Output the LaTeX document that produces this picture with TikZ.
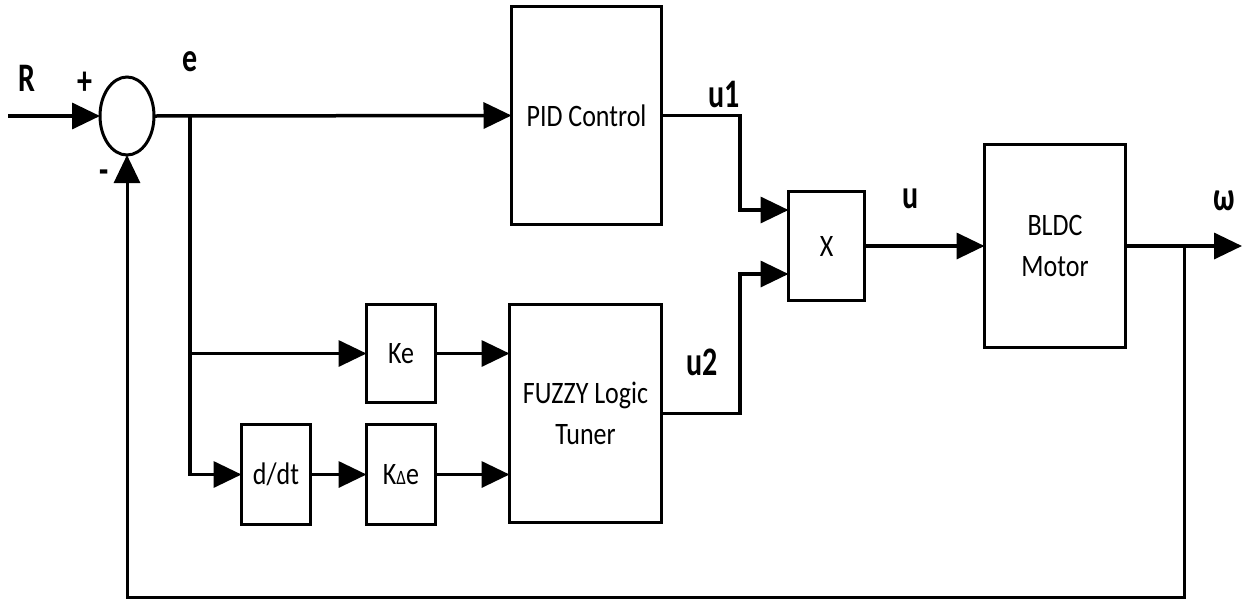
\documentclass[tikz,border=0pt]{standalone}
\usepackage{fontspec}
\usepackage{graphicx}
\setmainfont{Carlito}
\usetikzlibrary{arrows.meta,shapes.geometric}
\newcommand\lbl[1]{\scalebox{1}[1.35]{\fontsize{30}{30}\selectfont\bfseries #1}}
\newcommand\bt[1]{\scalebox{1}[1.2]{#1}}
\tikzset{
  blk/.style={draw,line width=3.5pt,inner sep=0pt,outer sep=0pt,align=center,
              font=\fontsize{26}{41}\selectfont},
  conn/.style={line width=3.5pt},
  arr/.style={line width=3.5pt,-{Triangle[length=28pt,width=26pt]}},
  fbarr/.style={line width=3pt,-{Triangle[length=28pt,width=26pt]}},
  txt/.style={inner sep=0pt}
}
\begin{document}
\begin{tikzpicture}[x=1pt,y=1pt]
\useasboundingbox (0,0) rectangle (1246,-600);
% nodes
\node[draw,ellipse,line width=3pt,minimum width=54pt,minimum height=78pt,inner sep=0pt,outer sep=0pt] (sum) at (127,-116) {};
\node[blk,minimum width=150pt,minimum height=218pt] (pid) at (586.5,-115.5) {\bt{PID Control}};
\node[blk,minimum width=76pt,minimum height=109pt] (x) at (826.5,-246) {\bt{X}};
\node[blk,minimum width=141pt,minimum height=203pt] (bldc) at (1055,-246) {\bt{BLDC}\\\bt{Motor}};
\node[blk,minimum width=69pt,minimum height=98pt] (ke) at (401,-353.5) {\bt{Ke}};
\node[blk,minimum width=69pt,minimum height=100pt] (ddt) at (276,-474.5) {\bt{d/dt}};
\node[blk,minimum width=69pt,minimum height=100pt] (kde) at (401,-474.5) {\bt{K{\fontsize{17}{17}\selectfont Δ}e}};
\node[blk,minimum width=152pt,minimum height=218pt] (fz) at (585.5,-413.5) {\bt{FUZZY Logic}\\\bt{Tuner}};
% coordinates
\coordinate (in) at (8,-116);
\coordinate (e) at (190,-116);
\coordinate (j1) at (740,-210);
\coordinate (j2) at (740,-274);
\coordinate (out) at (1242,-246);
\coordinate (fb) at (1184,-246);
\coordinate (bot) at (127,-597);
% connectors
\draw[arr] (in) -- (sum.west);
\draw[arr] (sum.east) -- (pid.west);
\draw[arr] (pid.east) -| (j1) -- (x.west |- j1);
\draw[arr] (fz.east) -| (j2) -- (x.west |- j2);
\draw[arr] (x.east) -- (bldc.west);
\draw[arr] (bldc.east) -- (out);
\draw[fbarr] (fb) |- (bot) -- (sum.south);
\draw[arr] (e) |- (ke.west);
\draw[arr] (e) |- (ddt.west);
\draw[arr] (ddt.east) -- (kde.west);
\draw[arr] (ke.east) -- (fz.west |- ke.east);
\draw[arr] (kde.east) -- (fz.west |- kde.east);
% labels
\node[txt] (lR) at (27,-78) {\lbl{R}};
\node[txt] (lp) at (85,-83) {\lbl{+}};
\node[txt] (lm) at (104,-177) {\lbl{-}};
\node[txt] (le) at (190,-62) {\lbl{e}};
\node[txt] (lu1) at (724,-94) {\lbl{u1}};
\node[txt] (lu) at (911,-199) {\lbl{u}};
\node[txt] (lw) at (1224,-201) {\lbl{ω}};
\node[txt] (lu2) at (702,-362) {\lbl{u2}};
\end{tikzpicture}
\end{document}
